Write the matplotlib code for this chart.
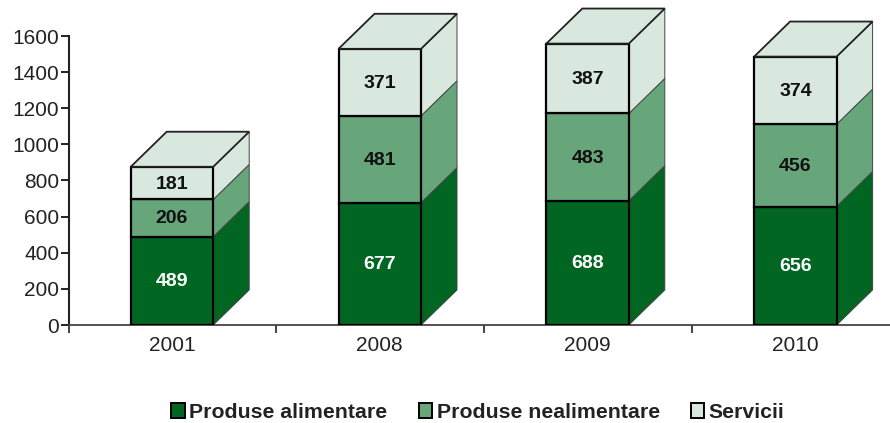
import numpy as np
import matplotlib
matplotlib.use("Agg")
import matplotlib.pyplot as plt
from matplotlib.patches import Patch

plt.rcParams["font.family"] = ["Liberation Sans", "DejaVu Sans"]

YEARS = ["2001", "2008", "2009", "2010"]
SERIES = ["Produse alimentare", "Produse nealimentare", "Servicii"]
ALIMENTARE = [489, 677, 688, 656]
NEALIMENTARE = [206, 481, 483, 456]
SERVICII = [181, 371, 387, 374]
Y_TICKS = [0, 200, 400, 600, 800, 1000, 1200, 1400, 1600]

COLORS = ["#006622", "#66A67A", "#D8E8DE"]
TEXT_COLORS = ["white", "#111111", "#111111"]
W, H = 890, 423
BAR_W = 0.397
DX = 0.173  # depth of the fake 3d box, x units
DY = 194    # same, y units

fig = plt.figure(figsize=(W / 100, H / 100), dpi=100)
ax = fig.add_axes([69 / W, 1 - 325 / H, (W - 69) / W, 289 / H])

x = np.arange(len(YEARS))
x_start = -103 / 207.8
bottom = np.zeros(len(YEARS))
for vals, color, tcolor in zip([ALIMENTARE, NEALIMENTARE, SERVICII], COLORS, TEXT_COLORS):
    ax.bar(x, vals, BAR_W, bottom=bottom, color=color, edgecolor="black", lw=1.6, zorder=3)
    top = bottom + np.array(vals)
    for xi, b, t, v in zip(x, bottom, top, vals):
        r = xi + BAR_W / 2
        # side face of this segment
        ax.fill([r, r + DX, r + DX, r], [b, b + DY, t + DY, t], facecolor=color,
                edgecolor="#444444", lw=0.7, zorder=2, clip_on=False)
        ax.text(xi, (b + t) / 2 - 5, str(v), ha="center", va="center", fontsize=14,
                fontweight="bold", color=tcolor, zorder=5)
    bottom = top

# top face of each box
for xi, t in zip(x, bottom):
    l, r = xi - BAR_W / 2, xi + BAR_W / 2
    ax.fill([l, l + DX, r + DX, r], [t, t + DY, t + DY, t], facecolor=COLORS[2],
            edgecolor="#222222", lw=1.3, zorder=4, clip_on=False)

ax.set_xlim(x_start, x_start + (W - 69) / 207.8)
ax.set_ylim(0, 1600)
ax.set_yticks(Y_TICKS)
ax.tick_params(axis="y", labelsize=15, length=6, width=1.4, pad=1, color="#222222", labelcolor="#222222")
# x ticks sit between the categories, labels stay on the categories
ax.set_xticks(np.append(x_start, x[:-1] + 0.5))
ax.set_xticks(x, minor=True)
ax.set_xticklabels([])
ax.set_xticklabels(YEARS, minor=True)
ax.tick_params(axis="x", which="major", length=6, width=1.2, color="#222222")
ax.tick_params(axis="x", which="minor", length=0, labelsize=15, pad=8, labelcolor="#222222")

ax.spines["top"].set_visible(False)
ax.spines["right"].set_visible(False)
ax.spines["left"].set_linewidth(1.5)
ax.spines["bottom"].set_linewidth(1.3)
ax.spines["left"].set_color("#222222")
ax.spines["bottom"].set_color("#444444")

handles = [Patch(facecolor=c, edgecolor="black", lw=1.4, label=s) for c, s in zip(COLORS, SERIES)]
fig.legend(handles=handles, loc="center", bbox_to_anchor=(478 / W, 1 - 412 / H), ncol=3, frameon=False,
           prop={"size": 15.3, "weight": "bold"}, handlelength=0.62, handleheight=0.7,
           handletextpad=0.22, columnspacing=1.47, labelcolor="#222222")

fig.savefig("out.png", dpi=100)
